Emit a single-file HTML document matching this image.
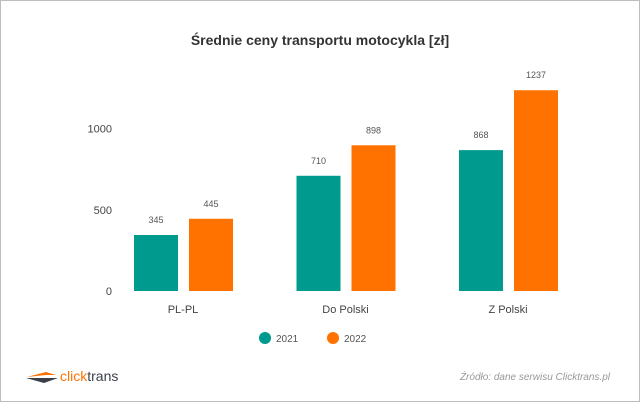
<!DOCTYPE html>
<html><head><meta charset="utf-8"><style>
body{margin:0;background:#fff;}
svg{display:block;font-family:"Liberation Sans",sans-serif;}
</style></head><body>
<svg id="c" width="640" height="402">
<rect x="0.5" y="0.5" width="639" height="401" fill="#fff" stroke="#bdbdbd"/>
<text x="320" y="45" text-anchor="middle" font-size="14" font-weight="bold" fill="#333">Średnie ceny transportu motocykla [zł]</text>
<g id="bars"></g>
<circle cx="265" cy="338" r="6" fill="#009a8f"/>
<text x="276" y="342" font-size="10" fill="#555">2021</text>
<circle cx="333" cy="338" r="6" fill="#ff7200"/>
<text x="344" y="342" font-size="10" fill="#555">2022</text>
<g>
<path d="M27 377 L46 372 L56 375 L46 375 Z" fill="#ff7200"/>
<path d="M26 378 L58 378 L44 383 Z" fill="#3a3f4a"/>
<text x="60" y="381" font-size="14" fill="#ff7200">click<tspan fill="#3a3f4a">trans</tspan></text>
</g>
<text x="610" y="380" text-anchor="end" font-size="10" font-style="italic" fill="#999">Źródło: dane serwisu Clicktrans.pl</text>
</svg>
<script>
const categories=["PL-PL","Do Polski","Z Polski"];
const values2021=[345,710,868];
const values2022=[445,898,1237];
const ticks=[0,500,1000];
const ns="http://www.w3.org/2000/svg";
const g=document.getElementById("bars");
const y0=291, scale=0.1623;
const y=v=>y0-v*scale;
const xc=i=>183+i*162.5;
function el(t,a){const e=document.createElementNS(ns,t);for(const k in a)e.setAttribute(k,a[k]);g.appendChild(e);return e;}
ticks.forEach(t=>{const e=el("text",{x:112,y:y(t)+4,"text-anchor":"end","font-size":11,fill:"#444"});e.textContent=t;

});
categories.forEach((c,i)=>{
 [[values2021,"#009a8f",-49,"2021"],[values2022,"#ff7200",6,"2022"]].forEach(([arr,col,off,s])=>{
  const v=arr[i];const x=xc(i)+off;
  const r=el("rect",{x:x,y:y(v),width:44,height:v*scale,fill:col});
  
  
  const t=el("text",{x:x+22,y:y(v)-12,"text-anchor":"middle","font-size":9,fill:"#555"});t.textContent=v;
  
  
 });
 const l=el("text",{x:xc(i),y:313,"text-anchor":"middle","font-size":11,fill:"#444"});l.textContent=c;
 
 
});
</script>
</body></html>
